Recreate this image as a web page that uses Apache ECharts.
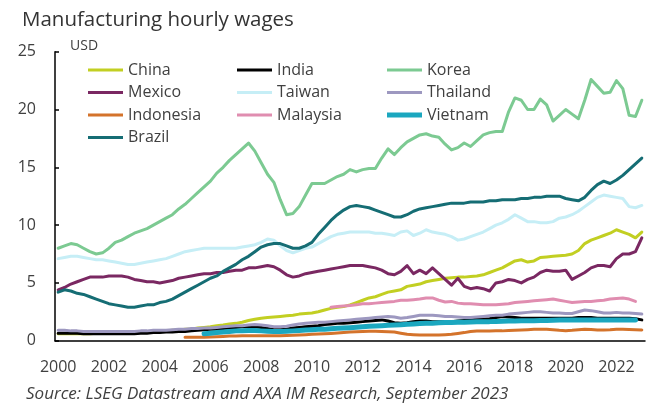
<!DOCTYPE html>
<html>
<head>
<meta charset="utf-8">
<script src="https://cdn.jsdelivr.net/npm/echarts@6/dist/echarts.min.js"></script>
<style>
html,body{margin:0;padding:0;background:#fff;}
#chart{width:653px;height:410px;}
</style>
</head>
<body>
<div id="chart"></div>
<script>
// Quarterly categories 2000Q1 .. 2023Q1
const years = [2000,2001,2002,2003,2004,2005,2006,2007,2008,2009,2010,2011,2012,2013,2014,2015,2016,2017,2018,2019,2020,2021,2022,2023];
const quarters = ['Q1','Q2','Q3','Q4'];
const categories = [];
years.forEach(y => quarters.forEach(q => { if (categories.length < 93) categories.push(y + q); }));

const china = [0.6,0.6,0.6,0.6,0.6,0.6,0.65,0.65,0.7,0.7,0.7,0.7,0.75,0.75,0.8,0.8,0.85,0.85,0.9,0.9,1.0,1.0,1.1,1.15,1.2,1.3,1.35,1.45,1.5,1.6,1.75,1.85,1.95,2.0,2.05,2.1,2.15,2.2,2.3,2.35,2.4,2.5,2.65,2.8,2.9,2.95,3.1,3.3,3.5,3.7,3.8,4.0,4.2,4.3,4.4,4.7,4.8,4.9,5.1,5.2,5.3,5.4,5.45,5.5,5.5,5.55,5.6,5.7,5.9,6.1,6.3,6.6,6.9,7.0,6.8,6.9,7.2,7.25,7.3,7.35,7.4,7.5,7.8,8.4,8.7,8.9,9.1,9.3,9.6,9.4,9.2,8.9,9.4];
const india = [0.65,0.65,0.65,0.65,0.6,0.6,0.6,0.6,0.6,0.6,0.6,0.6,0.6,0.65,0.65,0.7,0.7,0.75,0.75,0.8,0.8,0.85,0.9,0.95,1.0,1.0,1.05,1.1,1.15,1.2,1.2,1.2,1.15,1.05,0.95,0.95,1.0,1.1,1.15,1.2,1.25,1.3,1.4,1.45,1.5,1.5,1.55,1.6,1.65,1.7,1.75,1.8,1.7,1.55,1.5,1.55,1.65,1.7,1.7,1.65,1.65,1.65,1.65,1.7,1.75,1.8,1.85,1.85,1.9,2.0,2.1,2.05,2.0,1.95,1.95,1.95,1.95,1.95,1.95,1.95,1.95,1.95,2.0,2.0,2.0,1.95,1.95,1.95,1.95,1.95,1.95,1.9,1.8];
const korea = [8.0,8.2,8.4,8.3,8.0,7.7,7.5,7.6,8.0,8.5,8.7,9.0,9.3,9.5,9.7,10.0,10.3,10.6,10.9,11.4,11.8,12.3,12.8,13.3,13.8,14.5,15.0,15.6,16.1,16.6,17.1,16.4,15.4,14.4,13.7,12.2,10.9,11.0,11.6,12.6,13.6,13.6,13.6,13.9,14.2,14.4,14.8,14.6,14.8,14.9,14.9,15.8,16.6,16.1,16.7,17.2,17.5,17.8,17.9,17.7,17.6,17.0,16.5,16.7,17.1,16.8,17.3,17.8,18.0,18.1,18.1,19.8,21.0,20.8,20.0,20.0,20.9,20.4,19.0,19.5,20.0,19.6,19.2,20.8,22.6,22.0,21.4,21.5,22.5,21.8,19.5,19.4,20.8];
const mexico = [4.4,4.6,4.9,5.1,5.3,5.5,5.5,5.5,5.6,5.6,5.6,5.5,5.3,5.2,5.1,5.1,5.0,5.1,5.2,5.4,5.5,5.6,5.7,5.8,5.8,5.9,5.9,6.0,6.1,6.1,6.3,6.3,6.4,6.5,6.4,6.1,5.7,5.5,5.6,5.8,5.9,6.0,6.1,6.2,6.3,6.4,6.5,6.5,6.5,6.4,6.3,6.1,5.8,5.7,6.0,6.5,5.8,6.1,5.8,6.3,5.8,5.3,4.8,5.4,4.7,4.5,4.6,4.5,4.3,5.0,5.1,5.3,5.2,5.0,5.3,5.5,5.9,6.1,6.0,6.0,6.1,5.3,5.6,5.9,6.3,6.5,6.5,6.4,7.1,7.5,7.5,7.7,8.9];
const taiwan = [7.1,7.2,7.3,7.3,7.2,7.1,7.0,7.0,6.9,6.8,6.7,6.6,6.6,6.7,6.8,6.9,7.0,7.1,7.3,7.5,7.7,7.8,7.9,8.0,8.0,8.0,8.0,8.0,8.0,8.1,8.2,8.3,8.5,8.8,8.7,8.2,7.8,7.6,7.8,8.0,8.1,8.4,8.7,9.0,9.2,9.3,9.4,9.4,9.4,9.4,9.3,9.3,9.2,9.1,9.4,9.5,9.1,9.3,9.6,9.4,9.3,9.2,9.0,8.7,8.8,9.0,9.2,9.4,9.7,10.0,10.2,10.5,10.9,10.6,10.3,10.3,10.2,10.2,10.3,10.6,10.7,10.9,11.2,11.6,12.0,12.4,12.6,12.5,12.4,12.3,11.6,11.5,11.7];
const thailand = [0.9,0.9,0.85,0.85,0.8,0.8,0.8,0.8,0.8,0.8,0.8,0.8,0.8,0.85,0.85,0.9,0.9,0.9,0.95,1.0,1.0,1.05,1.05,1.1,1.1,1.15,1.2,1.25,1.3,1.3,1.35,1.4,1.35,1.3,1.2,1.2,1.25,1.35,1.45,1.5,1.55,1.6,1.6,1.65,1.7,1.75,1.8,1.85,1.9,1.95,2.0,2.05,2.1,2.05,1.95,2.0,2.1,2.2,2.2,2.2,2.15,2.1,2.1,2.05,2.0,2.0,2.05,2.1,2.15,2.2,2.2,2.3,2.35,2.4,2.45,2.5,2.5,2.45,2.4,2.4,2.35,2.35,2.5,2.65,2.6,2.5,2.4,2.4,2.45,2.4,2.4,2.35,2.3];
// Indonesia starts 2005Q1 (index 20)
const indonesiaStart = 20;
const indonesia = [0.3,0.3,0.3,0.3,0.32,0.35,0.37,0.4,0.4,0.42,0.42,0.42,0.42,0.42,0.42,0.42,0.45,0.47,0.5,0.52,0.55,0.58,0.6,0.63,0.66,0.7,0.75,0.78,0.8,0.82,0.82,0.8,0.78,0.75,0.65,0.55,0.52,0.5,0.5,0.5,0.5,0.52,0.55,0.62,0.7,0.8,0.84,0.84,0.84,0.85,0.85,0.88,0.9,0.93,0.95,0.98,1.0,0.98,0.95,0.9,0.87,0.9,0.95,1.0,0.97,0.93,0.93,0.95,1.0,1.0,0.97,0.95,0.93];
// Malaysia starts 2010Q4 (index 43)
const malaysiaStart = 43;
const malaysia = [2.9,2.95,3.0,3.05,3.1,3.2,3.2,3.25,3.3,3.35,3.4,3.5,3.5,3.55,3.6,3.7,3.7,3.5,3.35,3.4,3.25,3.2,3.2,3.15,3.1,3.1,3.1,3.15,3.2,3.3,3.35,3.4,3.45,3.5,3.55,3.6,3.5,3.4,3.3,3.35,3.4,3.4,3.45,3.5,3.6,3.65,3.7,3.6,3.4];
// Vietnam starts 2005Q4 (index 23)
const vietnamStart = 23;
const vietnam = [0.6,0.65,0.7,0.75,0.8,0.85,0.87,0.88,0.88,0.85,0.82,0.8,0.8,0.82,0.85,0.88,0.92,0.95,0.98,1.0,1.03,1.07,1.1,1.13,1.16,1.2,1.24,1.27,1.3,1.33,1.35,1.38,1.42,1.45,1.48,1.5,1.52,1.55,1.57,1.58,1.6,1.6,1.62,1.63,1.65,1.65,1.67,1.68,1.7,1.7,1.72,1.73,1.73,1.75,1.75,1.77,1.78,1.8,1.8,1.8,1.8,1.8,1.8,1.8,1.8,1.8,1.8,1.8,1.8];
const brazil = [4.2,4.4,4.3,4.1,4.0,3.8,3.6,3.4,3.2,3.1,3.0,2.9,2.9,3.0,3.1,3.1,3.3,3.4,3.6,3.9,4.2,4.5,4.8,5.1,5.4,5.6,6.0,6.3,6.6,7.0,7.3,7.7,8.1,8.3,8.4,8.4,8.2,8.0,8.0,8.2,8.5,9.2,9.8,10.4,10.9,11.3,11.6,11.7,11.6,11.5,11.3,11.1,10.9,10.7,10.7,10.9,11.2,11.4,11.5,11.6,11.7,11.8,11.9,11.9,11.9,12.0,12.0,12.0,12.1,12.1,12.2,12.2,12.2,12.3,12.3,12.4,12.4,12.5,12.5,12.5,12.3,12.2,12.1,12.4,13.0,13.5,13.8,13.6,13.9,14.3,14.8,15.3,15.8];

const yTicks = [0,5,10,15,20,25];

function pad(start, arr) {
  const out = new Array(start).fill(null).concat(arr);
  while (out.length < categories.length) out.push(null);
  return out;
}

const seriesDefs = [
  {name:'China', data: china, color:'#c2cf22', w:3},
  {name:'India', data: india, color:'#000000', w:3},
  {name:'Korea', data: korea, color:'#7cca92', w:3},
  {name:'Mexico', data: mexico, color:'#7a2862', w:3},
  {name:'Taiwan', data: taiwan, color:'#c6eef6', w:3},
  {name:'Thailand', data: thailand, color:'#9d98c0', w:3},
  {name:'Indonesia', data: pad(indonesiaStart, indonesia), color:'#d4732b', w:3},
  {name:'Malaysia', data: pad(malaysiaStart, malaysia), color:'#e08db0', w:3},
  {name:'Vietnam', data: pad(vietnamStart, vietnam), color:'#1ba7bf', w:5},
  {name:'Brazil', data: brazil, color:'#156d74', w:3}
];

const chart = echarts.init(document.getElementById('chart'), null, {renderer:'canvas'});
const font = 'Open Sans';
const legendText = {fontFamily: font, fontSize: 16, color: '#404040', lineHeight: 16};
const thinIcon = 'path://M0,1H35V4H0Z';
function legendCol(left, names, h) {
  return {
    left: left, top: 62, orient: 'vertical', padding: 0,
    itemWidth: 35, itemHeight: h, itemGap: 6.5, icon: 'rect',
    textStyle: legendText,
    data: names.map(n => (h > 3 && n !== 'Vietnam') ? {name: n, icon: thinIcon} : {name: n}),
    selectedMode: false
  };
}

chart.setOption({
  animation: false,
  backgroundColor: '#fff',
  title: {
    text: 'Manufacturing hourly wages', left: 17, top: 5,
    textStyle: {fontFamily: font, fontSize: 20.5, fontWeight: 'normal', color: '#333'}
  },
  graphic: [
    {type:'text', left: 70, top: 39, style:{text:'USD', fontFamily: font, fontSize: 14, fill:'#404040'}},
    {type:'text', left: 26, top: 386, style:{text:'Source: LSEG Datastream and AXA IM Research, September 2023', fontFamily: font, fontSize: 17, fontStyle:'italic', fill:'#404040'}}
  ],
  legend: [
    legendCol(88, ['China','Mexico','Indonesia','Brazil'], 3),
    legendCol(237, ['India','Taiwan','Malaysia'], 3),
    legendCol(387, ['Korea','Thailand','Vietnam'], 5)
  ],
  grid: {left: 55, right: 8, top: 51.7, bottom: 69.3},
  xAxis: {
    type: 'category', data: categories, boundaryGap: true,
    axisLine: {lineStyle: {color: '#000', width: 1.5}},
    axisTick: {inside: true, length: 4, interval: 5, lineStyle: {color: '#000', width: 1.5}},
    axisLabel: {interval: 7, margin: 19, fontFamily: font, fontSize: 16, color: '#404040',
      formatter: v => v.slice(0,4)},
    splitLine: {show: false}
  },
  yAxis: {
    type: 'value', min: 0, max: 25, interval: 5,
    axisLine: {show: true, lineStyle: {color: '#000', width: 1.5}},
    axisTick: {show: true, inside: true, length: 4, lineStyle: {color: '#000', width: 1.5}},
    axisLabel: {margin: 19, fontFamily: font, fontSize: 16, color: '#404040',
      formatter: v => yTicks.indexOf(v) >= 0 ? String(v) : ''},
    splitLine: {show: false}
  },
  series: seriesDefs.map(s => ({
    name: s.name, type: 'line', data: s.data, symbol: 'none', showSymbol: false,
    connectNulls: false, smooth: false,
    lineStyle: {color: s.color, width: s.w, join: 'round', cap: 'round'},
    itemStyle: {color: s.color},
    emphasis: {disabled: true}
  }))
});
</script>
</body>
</html>
